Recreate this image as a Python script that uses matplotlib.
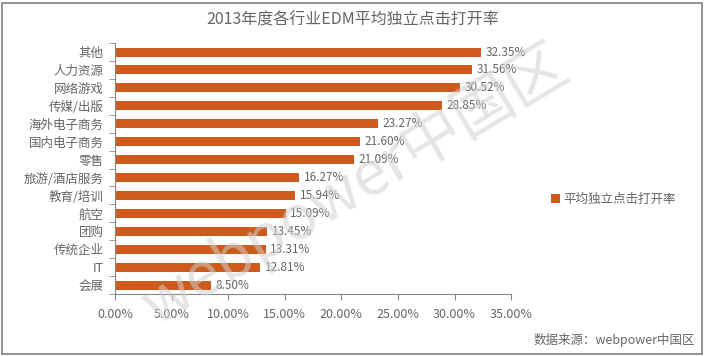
import matplotlib
matplotlib.use("Agg")
import matplotlib.pyplot as plt
from matplotlib.patches import Rectangle

plt.rcParams['font.family'] = ['Noto Sans CJK SC', 'DejaVu Sans']

categories = ['其他', '人力资源', '网络游戏', '传媒/出版', '海外电子商务', '国内电子商务', '零售',
              '旅游/酒店服务', '教育/培训', '航空', '团购', '传统企业', 'IT', '会展']
values = [32.35, 31.56, 30.52, 28.85, 23.27, 21.60, 21.09, 16.27, 15.94, 15.09, 13.45, 13.31, 12.81, 8.50]
xticks = [0, 5, 10, 15, 20, 25, 30, 35]
series_name = '平均独立点击打开率'

bar_color = '#CD5B1D'
text_color = '#656565'
grey = '#868686'

fig = plt.figure(figsize=(7.06, 3.56), dpi=100)
ax = fig.add_axes([0.163, 0.174, 0.561, 0.705])

n = len(categories)
ypos = list(range(n))[::-1]
ax.barh(ypos, values, height=0.5, color=bar_color, label=series_name)
for y, v in zip(ypos, values):
    ax.text(v + 0.4, y, f'{v:.2f}%', va='center', ha='left', fontsize=8.5, color=text_color)

ax.set_xlim(0, 35)
ax.set_ylim(-0.5, n - 0.5)
ax.set_xticks(xticks)
ax.set_xticklabels([f'{t:.2f}%' for t in xticks], fontsize=9, color=text_color)
ax.set_yticks(ypos)
ax.set_yticklabels(categories, fontsize=9, color=text_color)
ax.set_yticks([i - 0.5 for i in range(n + 1)], minor=True)
ax.tick_params(axis='y', which='major', length=0, pad=8)
ax.tick_params(axis='y', which='minor', length=4, color=grey)
ax.tick_params(axis='x', length=4, color=grey, pad=6)
for s in ['top', 'right']:
    ax.spines[s].set_visible(False)
for s in ['left', 'bottom']:
    ax.spines[s].set_color(grey)
    ax.spines[s].set_linewidth(0.8)

fig.text(0.5, 0.945, '2013年度各行业EDM平均独立点击打开率', ha='center', va='center',
         fontsize=11.5, color=text_color)
fig.legend(loc='center left', bbox_to_anchor=(0.765, 0.44), frameon=False,
           fontsize=9, handlelength=0.7, handleheight=0.7, handletextpad=0.3,
           labelcolor=text_color)
fig.text(0.985, 0.045, '数据来源：webpower中国区', ha='right', va='center',
         fontsize=9, color=text_color)
# watermark drawn over the bars
fig.text(0.503, 0.48, 'webpower中国区', ha='center', va='center', fontsize=44,
         color='#d0d0d0', alpha=0.55, rotation=31, zorder=10)

fig.patches.append(Rectangle((0.003, 0.006), 0.992, 0.985, transform=fig.transFigure,
                             fill=False, edgecolor='#7f7f7f', linewidth=1.2))

fig.savefig('out.png', dpi=100)
